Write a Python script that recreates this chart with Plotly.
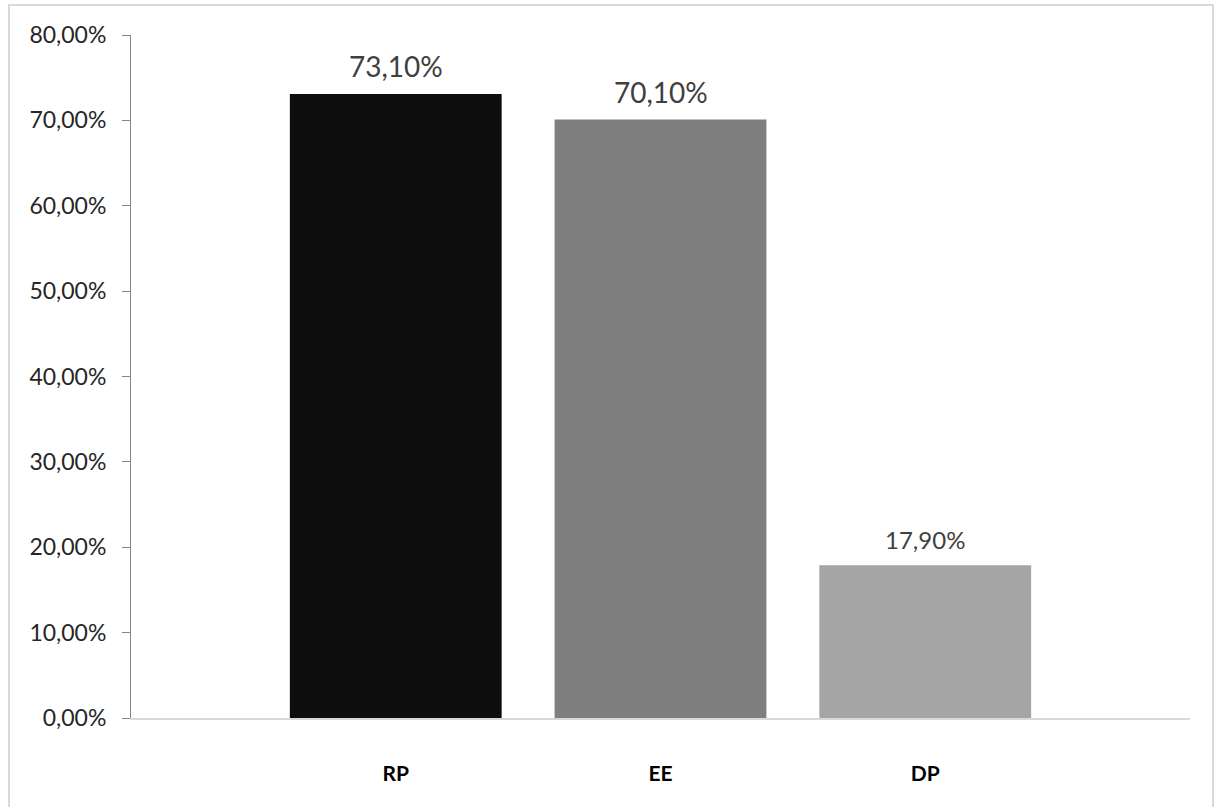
import plotly.graph_objects as go

categories = ["RP", "EE", "DP"]
values = [73.10, 70.10, 17.90]
bar_colors = ["#0d0d0d", "#7f7f7f", "#a5a5a5"]
label_sizes = [28, 28, 24]
y_ticks = [0, 10, 20, 30, 40, 50, 60, 70, 80]
y_tick_labels = ["0,00%", "10,00%", "20,00%", "30,00%", "40,00%",
                 "50,00%", "60,00%", "70,00%", "80,00%"]

W, H = 1219, 807
L, R, T, B = 131, 29, 35, 89
pw, ph = W - L - R, H - T - B

def px_x(x):
    return (x - L) / pw

def px_y(y):
    return (H - B - y) / ph

fig = go.Figure()
fig.add_trace(go.Bar(
    x=categories,
    y=values,
    marker=dict(color=bar_colors, line=dict(width=0)),
    width=0.8,
    hoverinfo="skip",
))

annotations = []
for c, v, s in zip(categories, values, label_sizes):
    annotations.append(dict(
        x=c, y=v, xref="x", yref="y",
        text=f"{v:.2f}%".replace(".", ","),
        showarrow=False, yanchor="bottom", yshift=9,
        font=dict(size=s, color="#404040", family="Lato"),
    ))

fig.update_layout(
    width=W, height=H,
    margin=dict(l=L, r=R, t=T, b=B),
    paper_bgcolor="white",
    plot_bgcolor="white",
    showlegend=False,
    font=dict(family="Lato", color="#404040"),
    annotations=annotations,
    shapes=[dict(
        type="rect", xref="paper", yref="paper",
        x0=px_x(9), x1=px_x(1213), y0=px_y(840), y1=px_y(5),
        line=dict(color="#d9d9d9", width=2), fillcolor="rgba(0,0,0,0)", layer="below",
    )],
)

fig.update_xaxes(
    type="category",
    range=[-1, 3],
    showline=True, linecolor="#d9d9d9", linewidth=2,
    showgrid=False, ticks="",
    tickfont=dict(size=21, color="#000000", family="Lato", weight="bold"),
    ticklabelstandoff=36,
    fixedrange=True,
)
fig.update_yaxes(
    range=[0, 80],
    tickvals=y_ticks,
    ticktext=y_tick_labels,
    showline=True, linecolor="#868686", linewidth=1,
    ticks="outside", ticklen=8, tickcolor="#868686",
    showgrid=False, zeroline=False,
    tickfont=dict(size=23, color="#262626", family="Lato"),
    ticklabelstandoff=11,
    fixedrange=True,
)

fig.write_html("out.html")
